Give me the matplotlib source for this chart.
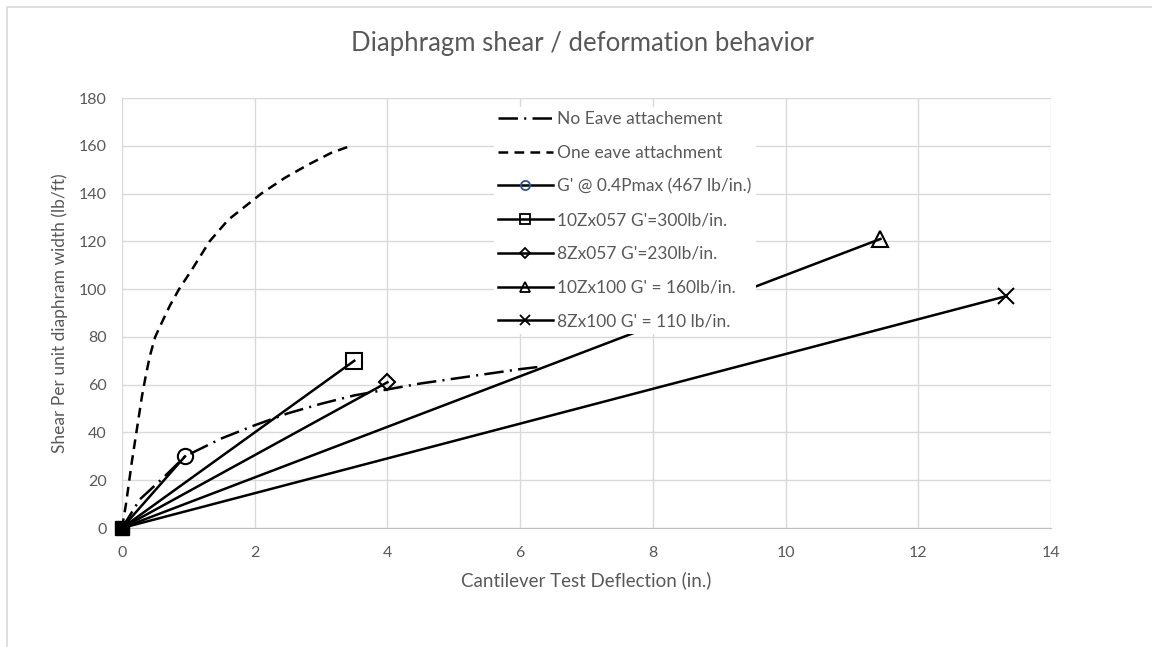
import matplotlib
matplotlib.use("Agg")
import matplotlib.pyplot as plt
from matplotlib.patches import Rectangle

plt.rcParams['font.family'] = ['Lato', 'DejaVu Sans']
plt.rcParams['lines.scale_dashes'] = False

GREY = '#595959'

# curves
no_eave_x = [0, 0.27, 0.62, 0.95, 1.5, 2.0, 2.5, 3.0, 3.5, 4.0, 4.5, 5.0, 5.5, 6.0, 6.3]
no_eave_y = [0, 12, 21, 30, 37.5, 43, 48, 52, 55.5, 58, 60.5, 62.5, 64.5, 66.5, 67.5]

one_eave_x = [0, 0.03, 0.06, 0.1, 0.15, 0.2, 0.25, 0.3, 0.36, 0.42, 0.5, 0.6, 0.72,
              0.86, 1.05, 1.32, 1.6, 2.1, 2.45, 2.8, 3.15, 3.45]
one_eave_y = [0, 5, 10, 18, 28, 37, 46, 55, 64, 72, 80, 86, 93,
              100, 108, 120, 129, 140, 146.5, 152, 157, 160]

# straight stiffness lines from the origin
g_labels = ["G' @ 0.4Pmax (467 lb/in.)", "10Zx057 G'=300lb/in.", "8Zx057 G'=230lb/in.",
            "10Zx100 G' = 160lb/in.", "8Zx100 G' = 110 lb/in."]
g_end_x = [0.95, 3.5, 4.0, 11.43, 13.32]
g_end_y = [30, 70, 61, 121, 97]
g_markers = ['o', 's', 'D', '^', 'x']
g_msize = [11, 11, 8, 11, 12]

x_ticks = list(range(0, 15, 2))
y_ticks = list(range(0, 181, 20))

fig = plt.figure(figsize=(11.52, 6.47), dpi=100)
fig.patches.append(Rectangle((7/1152, -0.1), 1.2, 1 - 7/647 + 0.1, transform=fig.transFigure,
                             fill=False, edgecolor='#d9d9d9', linewidth=1.2))
ax = fig.add_axes([122/1152, 1 - 528/647, (1051 - 122)/1152, (528 - 98)/647])

ax.plot(no_eave_x, no_eave_y, color='black', lw=1.8,
        linestyle=(0, (14, 4.5, 1.5, 4.5)), label='No Eave attachement', zorder=3)
ax.plot(one_eave_x, one_eave_y, color='black', lw=1.8,
        linestyle=(0, (7, 4.5)), label='One eave attachment', zorder=3)

for lab, ex, ey, m, ms in zip(g_labels, g_end_x, g_end_y, g_markers, g_msize):
    mec = '#2f5597' if m == 'o' else 'black'
    ax.plot([0, ex], [0, ey], color='black', lw=1.8, zorder=3)
    ax.plot([ex], [ey], linestyle='none', marker=m, ms=ms, mfc='none', mec='black',
            mew=1.5, zorder=4, clip_on=False)
    # legend proxy
    ax.plot([], [], color='black', lw=1.8, marker=m, ms=ms * 0.6, mfc='none', mec=mec,
            mew=1.3, label=lab)

# cluster of markers at the origin
ax.plot([0], [0], linestyle='none', marker='s', ms=10, mfc='black', mec='black',
        zorder=5, clip_on=False)

ax.set_xlim(0, 14)
ax.set_ylim(0, 180)
ax.set_xticks(x_ticks)
ax.set_yticks(y_ticks)
ax.grid(True, color='#d9d9d9', lw=1)
ax.set_axisbelow(True)
for s in ['top', 'right', 'left']:
    ax.spines[s].set_visible(False)
ax.spines['bottom'].set_color('#bfbfbf')
ax.tick_params(length=0, labelsize=11.5, colors=GREY)
ax.tick_params(axis='x', pad=13)
ax.tick_params(axis='y', pad=11)

ax.set_xlabel('Cantilever Test Deflection (in.)', fontsize=13.5, color=GREY, labelpad=8)
ax.set_ylabel('Shear Per unit diaphram width (lb/ft)', fontsize=12.5, color=GREY, labelpad=8)
fig.text(0.506, 1 - 43/647, 'Diaphragm shear / deformation behavior', fontsize=18.5,
         color=GREY, ha='center', va='center')

leg = ax.legend(loc='upper left', bbox_to_anchor=(485/1152, 1 - 98/647),
                bbox_transform=fig.transFigure, frameon=True, facecolor='white',
                edgecolor='none', framealpha=1, fancybox=False, fontsize=12.5,
                handlelength=3.15, handletextpad=0.25, labelspacing=1.02, borderpad=0.25)
for t in leg.get_texts():
    t.set_color(GREY)
leg.set_zorder(6)

fig.savefig('out.png', dpi=100)
